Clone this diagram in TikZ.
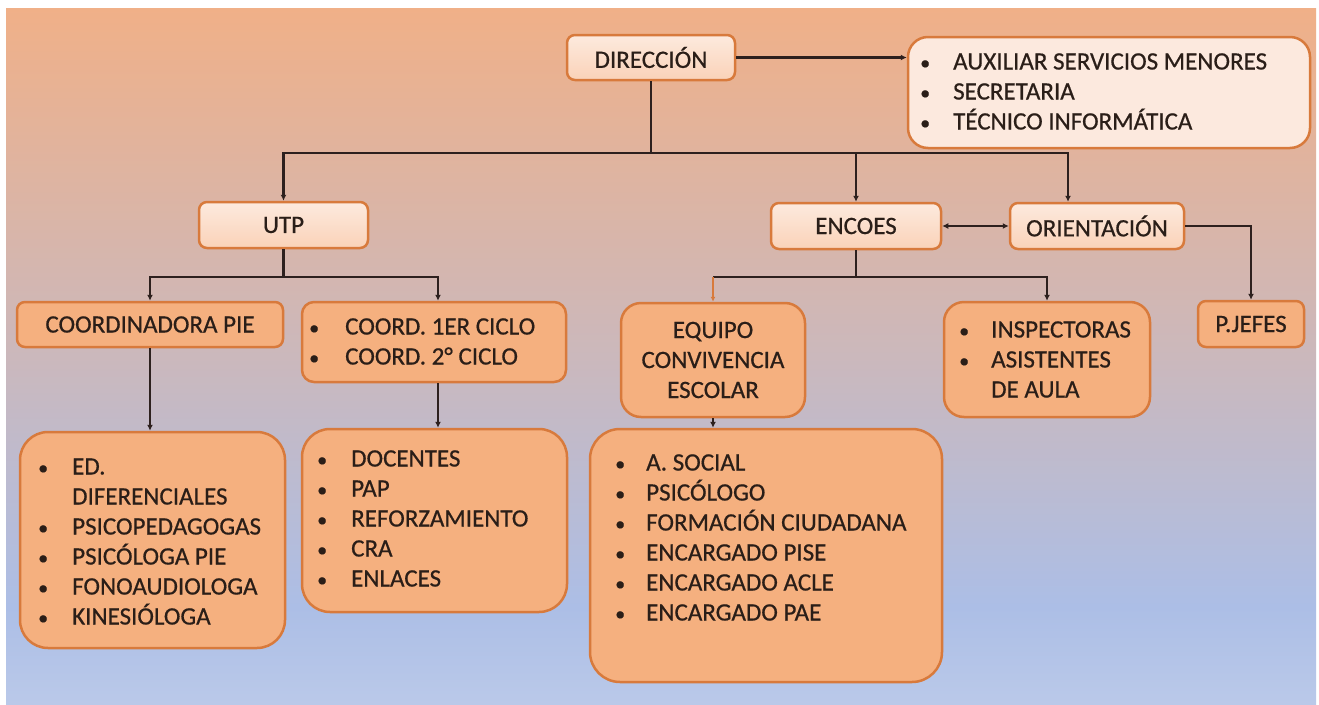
\documentclass[tikz,border=0pt]{standalone}
\usepackage{fontspec}
\setmainfont{Carlito}[FakeBold=0.6]
\usetikzlibrary{arrows.meta,calc}
\definecolor{bgtop}{RGB}{240,176,136}
\definecolor{bgmid}{RGB}{203,184,188}
\definecolor{bgblue}{RGB}{172,190,230}
\definecolor{bgbot}{RGB}{186,201,233}
\definecolor{paletop}{RGB}{253,234,222}
\definecolor{palebot}{RGB}{250,210,184}
\definecolor{auxfill}{RGB}{252,233,222}
\definecolor{orfill}{RGB}{245,176,127}
\definecolor{orline}{RGB}{216,122,60}
\definecolor{ink}{RGB}{42,30,24}
\definecolor{conn}{RGB}{45,32,30}
\pgfdeclareverticalshading{bgshade}{100bp}{color(0bp)=(bgbot); color(25bp)=(bgbot); color(32bp)=(bgblue); color(50bp)=(bgmid); color(75bp)=(bgtop); color(100bp)=(bgtop)}
\newlength\bgap
\newcommand\bli[1]{\hbox{\makebox[0pt]{\scalebox{0.8}{•}}\hspace{\bgap}#1}}
\newcommand\bnl[1]{\hbox{\hspace{\bgap}#1}}
\begin{document}
\begin{tikzpicture}[x=1pt,y=-1pt,
  every node/.style={font=\fontsize{25}{30}\selectfont, text=ink},
  upbox/.style={draw=orline, line width=2.5pt, rounded corners=8pt, top color=paletop, bottom color=palebot, inner sep=0pt},
  lobox/.style={draw=orline, line width=2.5pt, fill=orfill, inner sep=0pt},
  listtext/.style={anchor=base west, inner sep=0pt},
  link/.style={draw=conn, line width=2.6pt},
  arr/.style={link, -{Latex[length=6pt,width=6pt]}},
]
\useasboundingbox (0,0) rectangle (1319,704);
\fill[white] (0,0) rectangle (1319,704);
\shade[shading=bgshade] (6,8) rectangle (1316,704);

% boxes
\node[upbox, minimum width=168pt, minimum height=45pt] (dir) at (651,57.5) {DIRECCIÓN};
\node[draw=orline, line width=2.5pt, rounded corners=20pt, fill=auxfill, minimum width=402pt, minimum height=111pt] (aux) at (1109,92.5) {};
\node[upbox, minimum width=169pt, minimum height=46pt] (utp) at (283.5,225) {UTP};
\node[upbox, minimum width=170pt, minimum height=46pt] (encoes) at (856,226) {ENCOES};
\node[upbox, minimum width=174pt, minimum height=46pt] (orient) at (1097,226) {ORIENTACIÓN};

\node[lobox, rounded corners=8pt, minimum width=266pt, minimum height=45pt] (coordpie) at (150,324.5) {COORDINADORA PIE};
\node[lobox, rounded corners=12pt, minimum width=264pt, minimum height=80pt] (coord) at (434,342) {};
\node[lobox, rounded corners=20pt, minimum width=184pt, minimum height=114pt, align=center] (equipo) at (713,360) {EQUIPO\\CONVIVENCIA\\ESCOLAR};
\node[lobox, rounded corners=20pt, minimum width=206pt, minimum height=115pt] (insp) at (1047,359.5) {};
\node[lobox, rounded corners=8pt, minimum width=106pt, minimum height=46pt] (pjefes) at (1251,324) {P.JEFES};

\node[lobox, rounded corners=28pt, minimum width=265pt, minimum height=216pt] (ed) at (152.5,540) {};
\node[lobox, rounded corners=28pt, minimum width=265pt, minimum height=183pt] (doc) at (434.5,520.5) {};
\node[lobox, rounded corners=30pt, minimum width=352pt, minimum height=253pt] (social) at (766,555.5) {};

% list texts
\node[listtext] (auxt) at (925,69.5) {\setlength\bgap{28pt}\vtop{\bli{AUXILIAR SERVICIOS MENORES}\bli{SECRETARIA}\bli{TÉCNICO INFORMÁTICA}}};
\node[listtext] (coordt) at (314,334.5) {\setlength\bgap{31pt}\vtop{\bli{COORD. 1ER CICLO}\bli{COORD. 2° CICLO}}};
\node[listtext] (inspt) at (964,337.5) {\setlength\bgap{27pt}\vtop{\bli{INSPECTORAS}\bli{ASISTENTES}\bnl{DE AULA}}};
\node[listtext] (edt) at (43,474.5) {\setlength\bgap{29pt}\vtop{\bli{ED.}\bnl{DIFERENCIALES}\bli{PSICOPEDAGOGAS}\bli{PSICÓLOGA PIE}\bli{FONOAUDIOLOGA}\bli{KINESIÓLOGA}}};
\node[listtext] (doct) at (322,466.5) {\setlength\bgap{29pt}\vtop{\bli{DOCENTES}\bli{PAP}\bli{REFORZAMIENTO}\bli{CRA}\bli{ENLACES}}};
\node[listtext] (socialt) at (620,470.5) {\setlength\bgap{26pt}\vtop{\bli{A. SOCIAL}\bli{PSICÓLOGO}\bli{FORMACIÓN CIUDADANA}\bli{ENCARGADO PISE}\bli{ENCARGADO ACLE}\bli{ENCARGADO PAE}}};

% connectors
\coordinate (bus1) at (651,153);
\coordinate (odrop) at ($(orient.north)+(-29,0)$);
\draw[link] (dir.south) -- (bus1);
\draw[arr] (bus1) -| (utp.north);
\draw[arr] (bus1) -| (encoes.north);
\draw[arr] (bus1) -| (odrop);
\draw[arr] (dir.east) -- (dir.east -| aux.west);

\coordinate (bus2) at (283.5,277);
\coordinate (cdrop) at ($(coord.north)+(4,0)$);
\coordinate (cdrop2) at ($(coord.south)+(4,0)$);
\draw[link] (utp.south) -- (bus2);
\draw[arr] (bus2) -| (coordpie.north);
\draw[arr] (bus2) -| (cdrop);
\draw[arr] (coordpie.south) -- (coordpie.south |- ed.north);
\draw[arr] (cdrop2) -- (cdrop2 |- doc.north);

\coordinate (bus3) at (856,277);
\coordinate (eq3) at (713,277);
\draw[link] (encoes.south) -- (bus3);
\draw[arr] (bus3) -| (insp.north);
\draw[link] (bus3) -- (eq3);
\draw[orline, line width=2.6pt, -{Latex[length=5pt,width=5pt]}] (eq3) -- (equipo.north);
\draw[arr] (equipo.south) -- (equipo.south |- social.north);
\draw[link, {Latex[length=6pt,width=6pt]}-{Latex[length=6pt,width=6pt]}] (encoes.east) -- (orient.west);
\draw[arr] (orient.east) -| (pjefes.north);
\end{tikzpicture}
\end{document}
